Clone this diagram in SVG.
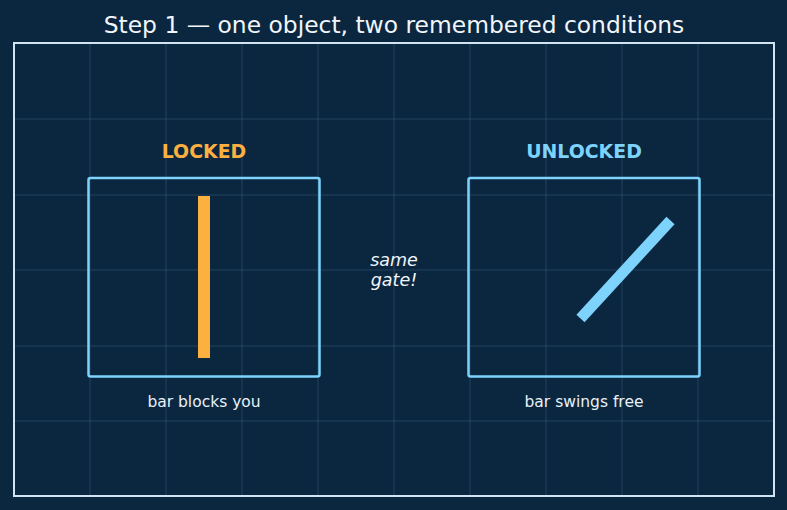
<svg xmlns="http://www.w3.org/2000/svg" width="787" height="510" viewBox="0 0 787 510">
<style>
.grid{stroke:#2c4a66;stroke-width:1;opacity:0.8}
.box{fill:none;stroke:#7dd3fc;stroke-width:2.5}
.t{font-family:"DejaVu Sans",sans-serif;text-anchor:middle}
.head{font-size:18.9px;font-weight:bold}
.cap{font-size:15.5px;fill:#e8f1f8}
</style>
<rect width="787" height="510" fill="#0b2740"/>
<g id="grid">
<line class="grid" x1="90" y1="43" x2="90" y2="496"/>
<line class="grid" x1="166" y1="43" x2="166" y2="496"/>
<line class="grid" x1="242" y1="43" x2="242" y2="496"/>
<line class="grid" x1="318" y1="43" x2="318" y2="496"/>
<line class="grid" x1="394" y1="43" x2="394" y2="496"/>
<line class="grid" x1="470" y1="43" x2="470" y2="496"/>
<line class="grid" x1="546" y1="43" x2="546" y2="496"/>
<line class="grid" x1="622" y1="43" x2="622" y2="496"/>
<line class="grid" x1="698" y1="43" x2="698" y2="496"/>
<line class="grid" x1="14" y1="119" x2="774" y2="119"/>
<line class="grid" x1="14" y1="195" x2="774" y2="195"/>
<line class="grid" x1="14" y1="270" x2="774" y2="270"/>
<line class="grid" x1="14" y1="346" x2="774" y2="346"/>
<line class="grid" x1="14" y1="421" x2="774" y2="421"/>
</g>
<rect x="14" y="43" width="760" height="453" fill="none" stroke="#cfe3f0" stroke-width="2"/>
<text class="t" x="394" y="33" font-size="23.4" fill="#f2f6fa">Step 1 — one object, two remembered conditions</text>
<g id="locked">
<text class="t head" x="204" y="158" fill="#fbb040">LOCKED</text>
<rect class="box" x="88.5" y="178" width="231" height="198.5" rx="2"/>
<rect x="198" y="196" width="12" height="162" fill="#fbb040"/>
<text class="t cap" x="204" y="407">bar blocks you</text>
</g>
<g id="unlocked">
<text class="t head" x="584" y="158" fill="#7dd3fc">UNLOCKED</text>
<rect class="box" x="468.5" y="178" width="231" height="198.5" rx="2"/>
<line x1="580.5" y1="318.5" x2="670.5" y2="220.5" stroke="#7dd3fc" stroke-width="11"/>
<text class="t cap" x="584" y="407">bar swings free</text>
</g>
<g id="connectors"/>
<g id="note">
<text class="t" x="394" y="266" font-size="17.5" font-style="italic" fill="#f2f6fa">same</text>
<text class="t" x="394" y="286" font-size="17.5" font-style="italic" fill="#f2f6fa">gate!</text>
</g>
</svg>
